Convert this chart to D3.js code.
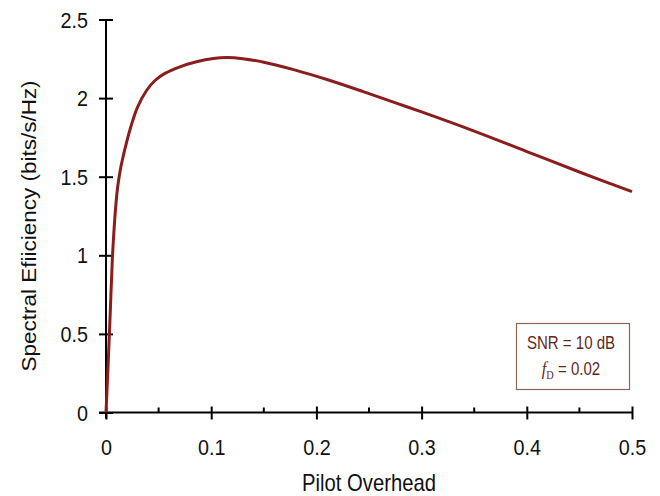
<!DOCTYPE html>
<html>
<head>
<meta charset="utf-8">
<script src="https://cdn.jsdelivr.net/npm/d3@7"></script>
<style>
body { margin: 0; background: #fff; }
text { font-family: "Liberation Sans", Arial, sans-serif; }
</style>
</head>
<body>
<svg id="chart" width="660" height="496"></svg>
<script>
// values
var overhead = [0, 0.002, 0.004, 0.006, 0.008, 0.0095, 0.011, 0.0135, 0.016, 0.0196, 0.0244, 0.0298, 0.0387, 0.0466, 0.056, 0.0703, 0.086, 0.102, 0.115, 0.13, 0.15, 0.18, 0.21, 0.245, 0.276, 0.3, 0.35, 0.4, 0.45, 0.5];
var efficiency = [0, 0.3, 0.63, 0.97, 1.2, 1.33, 1.43, 1.54, 1.62, 1.72, 1.835, 1.94, 2.05, 2.112, 2.157, 2.199, 2.231, 2.252, 2.258, 2.251, 2.228, 2.178, 2.118, 2.04, 1.968, 1.912, 1.79, 1.66, 1.53, 1.405];
var xTicks = [0, 0.1, 0.2, 0.3, 0.4, 0.5];
var xMinorTicks = [0.05, 0.15, 0.25, 0.35, 0.45];
var yTicks = [0, 0.5, 1, 1.5, 2, 2.5];
var xTitle = 'Pilot Overhead';
var yTitle = 'Spectral Efiiciency (bits/s/Hz)';

var svg = d3.select('#chart');
var x = d3.scaleLinear().domain([0, 0.5]).range([106, 632]);
var y = d3.scaleLinear().domain([0, 2.5]).range([412.5, 19.5]);
var squeeze = 0.92; // the reference type is a bit narrow

// x axis, major ticks cross the line, minor ones sit above it
var gx = svg.append('g')
    .attr('transform', 'translate(0,' + y(0) + ')')
    .call(d3.axisBottom(x).tickValues(xTicks).tickFormat(d3.format('')).tickSizeOuter(0));
gx.select('.domain').attr('d', 'M' + (x(0) - 7) + ',0H' + x(0.5)).attr('stroke-width', 2);
gx.selectAll('.tick line').attr('y1', -6).attr('y2', 7).attr('stroke-width', 2);
gx.selectAll('.tick text').attr('y', 42.5).attr('dy', 0)
    .attr('transform', 'scale(' + squeeze + ',1)')
    .style('font-size', '21.5px').attr('fill', '#111');
gx.selectAll('.minor').data(xMinorTicks).enter().append('line')
    .attr('class', 'minor')
    .attr('x1', function(d) { return x(d); })
    .attr('x2', function(d) { return x(d); })
    .attr('y1', 0).attr('y2', -5)
    .attr('stroke', '#000').attr('stroke-width', 2);

// y axis
var gy = svg.append('g')
    .attr('transform', 'translate(' + x(0) + ',0)')
    .call(d3.axisLeft(y).tickValues(yTicks).tickFormat(d3.format('')).tickSizeOuter(0));
gy.select('.domain').attr('d', 'M0,' + y(2.5) + 'V' + (y(0) + 6)).attr('stroke-width', 2);
gy.selectAll('.tick line').attr('x1', 7).attr('x2', -7).attr('stroke-width', 2);
gy.selectAll('.tick text').attr('x', -18 / squeeze).attr('dy', '0.35em')
    .attr('transform', 'scale(' + squeeze + ',1)')
    .style('font-size', '21.5px').attr('fill', '#111');
gy.selectAll('.domain, .tick line').attr('stroke', '#000');
gx.selectAll('.domain, .tick line').attr('stroke', '#000');

// titles
svg.append('text')
    .attr('transform', 'translate(' + (x(0) + x(0.5)) / 2 + ',491) scale(0.88,1)')
    .attr('text-anchor', 'middle')
    .style('font-size', '23px').attr('fill', '#111')
    .text(xTitle);
svg.append('text')
    .attr('transform', 'translate(36,226) scale(' + squeeze + ',1) rotate(-90)')
    .attr('text-anchor', 'middle')
    .style('font-size', '22.5px').attr('fill', '#111')
    .text(yTitle);

// curve
var line = d3.line()
    .x(function(d) { return x(d[0]); })
    .y(function(d) { return y(d[1]); })
    .curve(d3.curveCatmullRom.alpha(0.5));
svg.append('path')
    .datum(d3.zip(overhead, efficiency))
    .attr('d', line)
    .attr('fill', 'none')
    .attr('stroke', '#8b1d1d')
    .attr('stroke-width', 3);

// annotation box
var box = svg.append('g');
box.append('rect')
    .attr('x', 516.5).attr('y', 323.5).attr('width', 113).attr('height', 66)
    .attr('fill', '#fff').attr('stroke', '#8a6656').attr('stroke-width', 1.2);
box.append('text')
    .attr('transform', 'translate(571,349) scale(0.86,1)')
    .attr('text-anchor', 'middle')
    .style('font-size', '17.5px').attr('fill', '#5e2a1c')
    .text('SNR = 10 dB');
var t2 = box.append('text')
    .attr('transform', 'translate(571,375) scale(0.86,1)')
    .attr('text-anchor', 'middle')
    .style('font-size', '17.5px').attr('fill', '#5e2a1c');
t2.append('tspan')
    .style('font-family', '"Liberation Serif", "DejaVu Serif", serif')
    .style('font-style', 'italic')
    .style('font-size', '19px')
    .text('f');
t2.append('tspan')
    .attr('dy', 4)
    .style('font-family', '"Liberation Serif", "DejaVu Serif", serif')
    .style('font-size', '12px')
    .text('D');
t2.append('tspan')
    .attr('dy', -4)
    .text(' = 0.02');
</script>
</body>
</html>
